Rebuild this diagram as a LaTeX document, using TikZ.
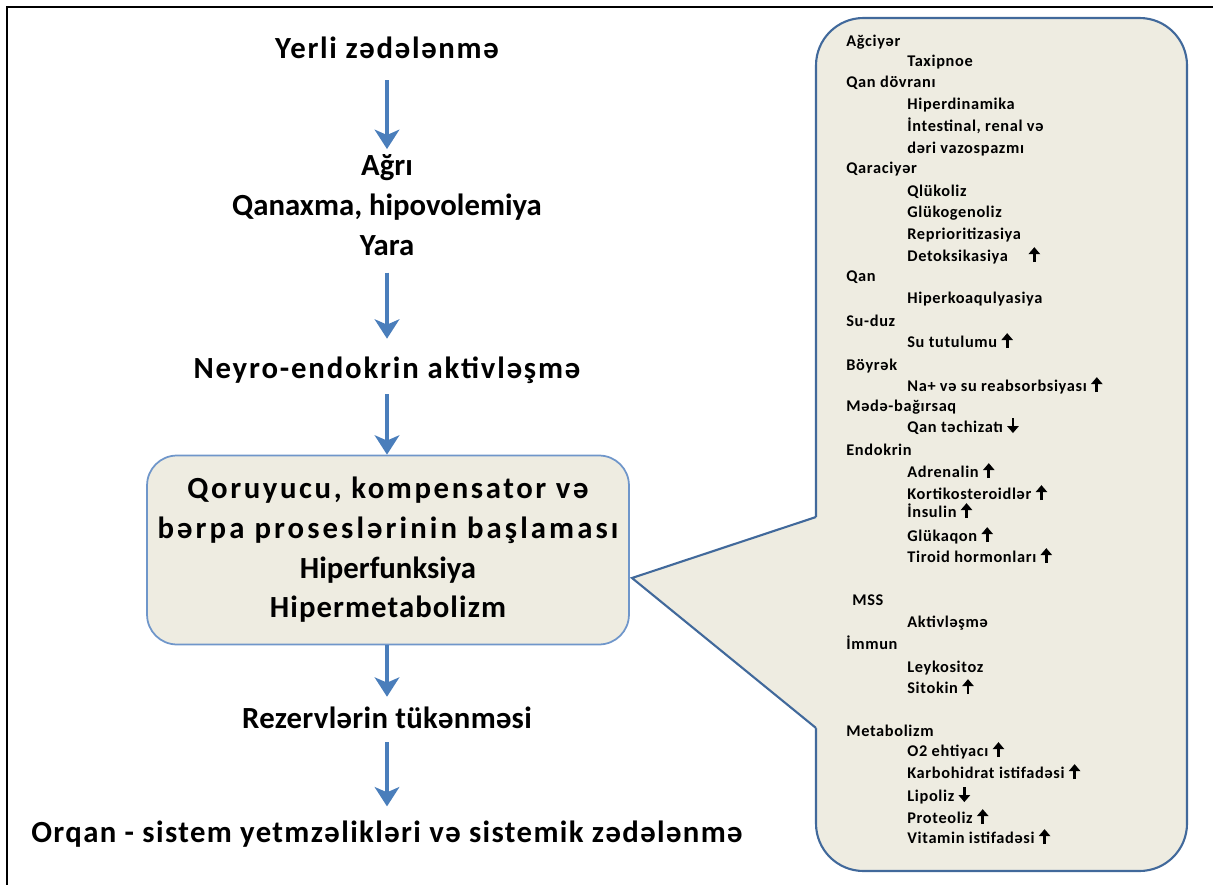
\documentclass[tikz,border=0pt]{standalone}
\usepackage{fontspec}
\setmainfont{Carlito}
\usetikzlibrary{arrows.meta}
\definecolor{oxrengi}{HTML}{4A7EBB}
\definecolor{qutufon}{HTML}{EEECE1}
\definecolor{qutuxett}{HTML}{6F96CA}
\definecolor{balonxett}{HTML}{41699B}
\newcommand{\artir}{\ \tikz[baseline=0pt]\draw[line width=1.6pt,-{Triangle[length=4pt,width=6.5pt]}] (0,-0.5pt) -- (0,8pt);}
\newcommand{\azal}{\ \tikz[baseline=0pt]\draw[line width=1.6pt,-{Triangle[length=4pt,width=6.5pt]}] (0,8pt) -- (0,-0.5pt);}
\newcommand{\aral}[2]{{\addfontfeature{LetterSpace=#1}#2}}
\begin{document}
\begin{tikzpicture}[x=0.02cm,y=-0.02cm]
				% Styles
				\tikzstyle{ox}=[-{Stealth[length=11pt,width=14pt,inset=3pt]},line width=2.6pt,oxrengi]
				\tikzstyle{merhele}=[inner sep=0pt,align=center,font=\fontsize{17.5}{22.6}\selectfont\bfseries]
				\tikzstyle{qutu}=[merhele,draw=qutuxett,fill=qutufon,line width=1pt,rounded corners=17pt,minimum width=9.64cm,minimum height=3.78cm]
				\tikzstyle{balon}=[draw=balonxett,line width=1.2pt]
				\tikzstyle{basliq}=[anchor=mid west,inner sep=0pt,font=\fontsize{9.3}{11}\selectfont\bfseries\addfontfeature{LetterSpace=4}]
				\tikzstyle{madde}=[basliq]
				% Kenarlar
				\useasboundingbox (0,0) rectangle (1213,885);
				\draw[line width=1.7pt] (7,885) -- (7,7) -- (1213,7);
				% Merheleler
				\node[merhele] (yerli) at (387,48) {\aral{5.5}{Yerli zədələnmə}};
				\node[merhele] (agri) at (387,205) {Ağrı\\Qanaxma, hipovolemiya\\Yara};
				\node[merhele] (neyro) at (387,370) {\aral{6}{Neyro-endokrin aktivləşmə}};
				\node[qutu] (qoruyucu) at (388,550) {\aral{8.5}{Qoruyucu, kompensator və}\\\aral{10}{bərpa proseslərinin başlaması}\\Hiperfunksiya\\\aral{3.5}{Hipermetabolizm}};
				\node[merhele] (rezerv) at (387,718) {\aral{1}{Rezervlərin tükənməsi}};
				\node[merhele] (orqan) at (387,834) {\aral{4.5}{Orqan - sistem yetmzəlikləri və sistemik zədələnmə}};
				% Oxlar
				\draw[ox,shorten <=12pt,shorten >=3pt] (yerli.south) -- (agri.north);
				\draw[ox,shorten <=9.6pt,shorten >=10pt] (agri.south) -- (neyro.north);
				\draw[ox,shorten <=6pt] (neyro.south) -- (qoruyucu.north -| neyro.south);
				\draw[ox,shorten >=5.7pt] (qoruyucu.south -| rezerv.north) -- (rezerv.north);
				\draw[ox,shorten <=7.4pt,shorten >=8pt] (rezerv.south) -- (orqan.north);
				% Balon
				\draw[balon,fill=qutufon,rounded corners=27pt] (816,18) rectangle (1187,871);
				\fill[qutufon] (632,578) -- (816,517) -- (819,517) -- (819,728) -- (816,728) -- cycle;
				\draw[balon,line join=miter] (816,517) -- (632,578) -- (816,728);
				% Orqanlar
				\foreach \y/\m [count=\i] in {42/Ağciyər,83/Qan dövranı,169/Qaraciyər,277/Qan,322/Su-duz,366/Böyrək,
					407/Mədə-bağırsaq,451/Endokrin,645/İmmun,732/Metabolizm}
					\node[basliq] (b\i) at (846,\y) {\m};
				\node[basliq] (mss) at (852,601) {MSS};
				% Deyisiklikler
				\foreach \y/\m [count=\i] in {62/Taxipnoe,105/Hiperdinamika,127/{İntestinal, renal və},149/dəri vazospazmı,
					192/Qlükoliz,213/Glükogenoliz,235/Reprioritizasiya,257/{Detoksikasiya\quad\artir},299/Hiperkoaqulyasiya,
					343/{Su tutulumu\artir},387/{Na+ və su reabsorbsiyası\artir},428/{Qan təchizatı\azal},
					473/{Adrenalin\artir},495/{Kortikosteroidlər\artir},513/{İnsulin\artir},537/{Glükaqon\artir},
					558/{Tiroid hormonları\artir},623/Aktivləşmə,668/Leykositoz,689/{Sitokin\artir},
					752/{O2 ehtiyacı\artir},774/{Karbohidrat istifadəsi\artir},797/{Lipoliz\azal},
					819/{Proteoliz\artir},839/{Vitamin istifadəsi\artir}}
					\node[madde] (d\i) at (907,\y) {\m};
\end{tikzpicture}
\end{document}
